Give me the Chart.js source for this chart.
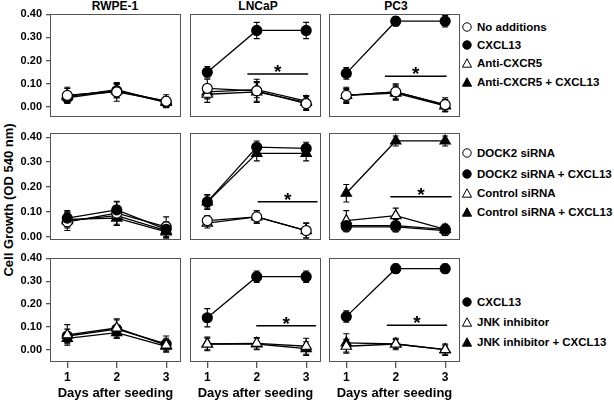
<!DOCTYPE html>
<html>
<head>
<meta charset="utf-8">
<script src="https://cdn.jsdelivr.net/npm/chart.js@4.4.1/dist/chart.umd.min.js"></script>
<style>
  html, body { margin: 0; padding: 0; background: #fff; }
  body {
    width: 614px; height: 401px; position: relative; overflow: hidden;
    font-family: "Liberation Sans", Arial, Helvetica, sans-serif; font-weight: bold; color: #000;
  }
  canvas { position: absolute; }
  .frame { position: absolute; box-sizing: border-box; border: 1.5px solid #555; pointer-events: none; z-index: 2; }
  .title { position: absolute; top: 0; font-size: 12px; line-height: 12px; transform: translateX(-50%); white-space: nowrap; }
  .ytitle { position: absolute; left: 8px; top: 200px; font-size: 13px; white-space: nowrap; transform: translate(-50%, -50%) rotate(-90deg); }
  .leg { position: absolute; left: 462px; font-size: 11.5px; line-height: 14px; white-space: nowrap; transform: translateY(-50%); display: flex; align-items: center; }
  .leg svg { margin-right: 5px; }
</style>
</head>
<body>
<div class="ytitle">Cell Growth (OD 540 nm)</div>
<script>
// ===== DATA =====
const days = [1, 2, 3];
const yTicks = [0, 0.1, 0.2, 0.3, 0.4];
const cellLines = ["RWPE-1", "LNCaP", "PC3"];
const xTitle = "Days after seeding";

// each array: [RWPE-1, LNCaP, PC3], each of those: day 1..3
// row 1 - CXCR5 blocking
const noAdditions      = [[0.05, 0.065, 0.025], [0.08, 0.07, 0.015], [0.05, 0.065, 0.01]];
const noAdditionsErr   = [[0.035, 0.04, 0.028], [0.04, 0.05, 0.03], [0.035, 0.035, 0.03]];
const cxcl13A          = [[0.04, 0.07, 0.02], [0.15, 0.33, 0.33], [0.145, 0.37, 0.37]];
const cxcl13AErr       = [[0.02, 0.03, 0.02], [0.025, 0.035, 0.035], [0.025, 0.02, 0.025]];
const antiCxcr5        = [[0.05, 0.07, 0.025], [0.055, 0.065, 0.02], [0.05, 0.06, 0.005]];
const antiCxcr5Err     = [[0.03, 0.03, 0.02], [0.035, 0.04, 0.03], [0.03, 0.03, 0.025]];
const antiCxcr5Cx      = [[0.045, 0.075, 0.02], [0.065, 0.075, 0.025], [0.05, 0.065, 0.008]];
const antiCxcr5CxErr   = [[0.02, 0.025, 0.02], [0.03, 0.035, 0.025], [0.025, 0.03, 0.025]];

// row 2 - DOCK2 siRNA
const dock2            = [[0.06, 0.095, 0.04], [0.065, 0.08, 0.025], [0.04, 0.04, 0.025]];
const dock2Err         = [[0.035, 0.045, 0.04], [0.02, 0.025, 0.03], [0.02, 0.02, 0.02]];
const dock2Cx          = [[0.075, 0.108, 0.03], [0.14, 0.36, 0.355], [0.045, 0.045, 0.03]];
const dock2CxErr       = [[0.03, 0.035, 0.03], [0.03, 0.025, 0.025], [0.02, 0.025, 0.02]];
const control          = [[0.065, 0.085, 0.025], [0.055, 0.08, 0.025], [0.065, 0.085, 0.03]];
const controlErr       = [[0.03, 0.04, 0.03], [0.02, 0.025, 0.03], [0.04, 0.03, 0.02]];
const controlCx        = [[0.07, 0.075, 0.02], [0.14, 0.335, 0.335], [0.175, 0.385, 0.385]];
const controlCxErr     = [[0.03, 0.03, 0.025], [0.025, 0.03, 0.03], [0.035, 0.02, 0.02]];

// row 3 - JNK inhibitor
const cxcl13C          = [[0.06, 0.09, 0.025], [0.14, 0.32, 0.32], [0.145, 0.355, 0.355]];
const cxcl13CErr       = [[0.03, 0.04, 0.035], [0.04, 0.025, 0.025], [0.025, 0.02, 0.02]];
const jnk              = [[0.065, 0.095, 0.02], [0.025, 0.028, 0.015], [0.015, 0.025, 0.0]];
const jnkErr           = [[0.045, 0.04, 0.03], [0.03, 0.025, 0.035], [0.03, 0.02, 0.02]];
const jnkCx            = [[0.05, 0.075, 0.015], [0.025, 0.025, 0.005], [0.03, 0.025, 0.0]];
const jnkCxErr         = [[0.02, 0.025, 0.02], [0.025, 0.025, 0.03], [0.04, 0.025, 0.025]];

// significance bars: [from day, to day, level] per cell line
const sigRow1 = [null, [1.81, 3.04, 0.142], [1.78, 3.03, 0.133]];
const sigRow2 = [null, [2.02, 3.23, 0.141], [1.89, 3.13, 0.161]];
const sigRow3 = [null, [1.99, 3.2, 0.105], [1.82, 3.04, 0.107]];

const rows = [
  { sig: sigRow1, series: [
    { label: "No additions", mean: noAdditions, err: noAdditionsErr, shape: "circle", filled: false, order: 0 },
    { label: "CXCL13", mean: cxcl13A, err: cxcl13AErr, shape: "circle", filled: true, order: 1 },
    { label: "Anti-CXCR5", mean: antiCxcr5, err: antiCxcr5Err, shape: "triangle", filled: false, order: 2 },
    { label: "Anti-CXCR5 + CXCL13", mean: antiCxcr5Cx, err: antiCxcr5CxErr, shape: "triangle", filled: true, order: 3 }
  ]},
  { sig: sigRow2, series: [
    { label: "DOCK2 siRNA", mean: dock2, err: dock2Err, shape: "circle", filled: false, order: 1 },
    { label: "DOCK2 siRNA + CXCL13", mean: dock2Cx, err: dock2CxErr, shape: "circle", filled: true, order: 0 },
    { label: "Control siRNA", mean: control, err: controlErr, shape: "triangle", filled: false, order: 2 },
    { label: "Control siRNA + CXCL13", mean: controlCx, err: controlCxErr, shape: "triangle", filled: true, order: 3 }
  ]},
  { sig: sigRow3, series: [
    { label: "CXCL13", mean: cxcl13C, err: cxcl13CErr, shape: "circle", filled: true, order: 1 },
    { label: "JNK inhibitor", mean: jnk, err: jnkErr, shape: "triangle", filled: false, order: 0 },
    { label: "JNK inhibitor + CXCL13", mean: jnkCx, err: jnkCxErr, shape: "triangle", filled: true, order: 2 }
  ]}
];

// ===== LAYOUT =====
const boxLeft = [50, 190, 329], boxW = 131;
const boxTop = [14, 133, 258], boxH = [103, 107, 104];
const yRange = [[-0.043, 0.401], [-0.013, 0.417], [-0.054, 0.402]];
const xRange = [0.65, 3.3];
const titleX = [115, 258, 396];
const legendY = [[27, 45, 63, 82], [153, 174, 193, 212], [302, 322, 342]];
const pad = 12, xAxisH = 39;

const FONT = '"Liberation Sans", Arial, Helvetica, sans-serif';
Chart.defaults.font.family = FONT;
Chart.defaults.color = "#000";

// error bars under the marks, asterisk on top
const panelDecor = {
  id: "panelDecor",
  beforeDatasetsDraw(chart) {
    const { ctx, scales: { x, y } } = chart;
    ctx.save();
    ctx.strokeStyle = "#000";
    ctx.lineWidth = 1.1;
    chart.data.datasets.forEach(ds => {
      if (!ds.err) return;
      ds.data.forEach((p, i) => {
        const px = x.getPixelForValue(p.x);
        const top = y.getPixelForValue(p.y + ds.err[i]);
        const bot = y.getPixelForValue(p.y - ds.err[i]);
        ctx.beginPath();
        ctx.moveTo(px, top); ctx.lineTo(px, bot);
        ctx.moveTo(px - 3, top); ctx.lineTo(px + 3, top);
        ctx.moveTo(px - 3, bot); ctx.lineTo(px + 3, bot);
        ctx.stroke();
      });
    });
    ctx.restore();
  },
  afterDraw(chart, args, opts) {
    const s = opts.sig;
    if (!s) return;
    const { ctx, scales: { x, y } } = chart;
    ctx.save();
    ctx.fillStyle = "#000";
    ctx.font = "bold 19px " + FONT;
    ctx.textAlign = "center";
    ctx.textBaseline = "alphabetic";
    ctx.fillText("*", x.getPixelForValue((s[0] + s[1]) / 2), y.getPixelForValue(s[2]) + 4);
    ctx.restore();
  }
};

function marker(shape, filled) {
  const fill = filled ? "#000" : "#fff";
  const body = shape === "circle"
    ? `<circle cx="5" cy="5" r="4.2" fill="${fill}" stroke="#000" stroke-width="1"/>`
    : `<polygon points="5,0.8 9.6,9.2 0.4,9.2" fill="${fill}" stroke="#000" stroke-width="1"/>`;
  return `<svg width="10" height="10" viewBox="0 0 10 10">${body}</svg>`;
}

document.addEventListener("DOMContentLoaded", () => {
  cellLines.forEach((name, c) => {
    const t = document.createElement("div");
    t.className = "title";
    t.style.left = titleX[c] + "px";
    t.textContent = name;
    document.body.appendChild(t);
  });

  rows.forEach((row, r) => {
    row.series.forEach((s, k) => {
      const d = document.createElement("div");
      d.className = "leg";
      d.style.top = legendY[r][k] + "px";
      d.innerHTML = marker(s.shape, s.filled) + "<span></span>";
      d.querySelector("span").textContent = s.label;
      document.body.appendChild(d);
    });

    cellLines.forEach((name, c) => {
      const isLeft = c === 0, isBottom = r === rows.length - 1;
      const cv = document.createElement("canvas");
      const w = isLeft ? boxLeft[c] + boxW : boxW;
      const h = pad + boxH[r] + (isBottom ? xAxisH : pad);
      cv.width = w; cv.height = h;
      cv.style.left = (isLeft ? 0 : boxLeft[c]) + "px";
      cv.style.top = (boxTop[r] - pad) + "px";
      document.body.appendChild(cv);

      // panel frame
      const f = document.createElement("div");
      f.className = "frame";
      f.style.left = boxLeft[c] + "px";
      f.style.top = boxTop[r] + "px";
      f.style.width = boxW + "px";
      f.style.height = boxH[r] + "px";
      document.body.appendChild(f);

      const datasets = row.series.map(s => ({
        label: s.label,
        data: days.map((d, i) => ({ x: d, y: s.mean[c][i] })),
        err: s.err[c],
        borderColor: "#000",
        borderWidth: 1.3,
        pointStyle: s.shape,
        pointRadius: s.shape === "triangle" ? 6 : 5,
        pointBackgroundColor: s.filled ? "#000" : "#fff",
        pointBorderColor: "#000",
        pointBorderWidth: 1.2,
        order: s.order,
        clip: false
      }));
      const sig = row.sig[c];
      if (sig) {
        datasets.push({
          label: "sig",
          data: [{ x: sig[0], y: sig[2] }, { x: sig[1], y: sig[2] }],
          borderColor: "#000",
          borderWidth: 1.5,
          pointRadius: 0,
          order: 10,
          clip: false
        });
      }

      const xScale = {
        type: "linear",
        min: xRange[0], max: xRange[1],
        display: isBottom,
        afterBuildTicks: s => { s.ticks = days.map(v => ({ value: v })); },
        grid: { drawOnChartArea: false, drawTicks: true, tickLength: 6, color: "#555", lineWidth: 1.3 },
        border: { display: false },
        ticks: { font: { size: 12, weight: "bold" }, padding: 2, maxRotation: 0 },
        title: { display: true, text: xTitle, font: { size: 13, weight: "bold" }, padding: 0 }
      };
      if (isBottom) xScale.afterFit = s => { s.height = xAxisH; };

      const yScale = {
        type: "linear",
        min: yRange[r][0], max: yRange[r][1],
        display: isLeft,
        afterBuildTicks: s => { s.ticks = yTicks.map(v => ({ value: v })); },
        grid: { drawOnChartArea: false, drawTicks: true, tickLength: 4, color: "#555", lineWidth: 1.3 },
        border: { display: false },
        ticks: { font: { size: 11, weight: "bold" }, padding: 4, callback: v => v.toFixed(2) }
      };
      if (isLeft) yScale.afterFit = s => { s.width = boxLeft[0]; };

      new Chart(cv, {
        type: "line",
        data: { datasets },
        plugins: [panelDecor],
        options: {
          responsive: false,
          animation: false,
          devicePixelRatio: 1,
          layout: { autoPadding: false, padding: { top: pad, bottom: isBottom ? 0 : pad, left: 0, right: 0 } },
          plugins: {
            legend: { display: false },
            tooltip: { enabled: false },
            panelDecor: { sig }
          },
          scales: { x: xScale, y: yScale }
        }
      });
    });
  });
});
</script>
</body>
</html>
